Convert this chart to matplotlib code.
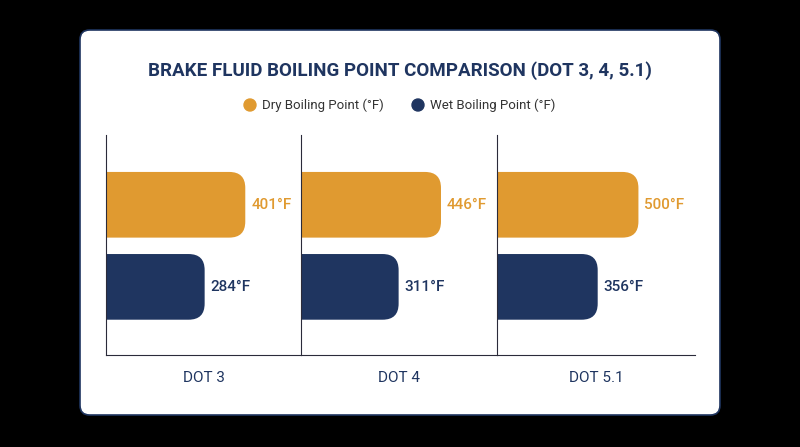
import matplotlib.pyplot as plt
from matplotlib.patches import FancyBboxPatch, Ellipse

categories = ['DOT 3', 'DOT 4', 'DOT 5.1']
dry = [401, 446, 500]
wet = [284, 311, 356]
series_names = ['Dry Boiling Point (°F)', 'Wet Boiling Point (°F)']

orange = '#E09A30'
navy = '#1F3560'
W, H = 800, 447

plt.rcParams['font.family'] = ['Roboto', 'DejaVu Sans']
fig = plt.figure(figsize=(8, 4.47), dpi=100)
fig.patch.set_facecolor('black')

# white card, kept behind the axes
card = FancyBboxPatch((80 / W, 1 - 415 / H), 640 / W, 385 / H,
                      boxstyle='round,pad=0,rounding_size=0.012',
                      transform=fig.transFigure, facecolor='white',
                      edgecolor=navy, linewidth=1.2, mutation_aspect=W / H, zorder=-5)
fig.add_artist(card)

fig.text(0.5, 1 - 71 / H, 'BRAKE FLUID BOILING POINT COMPARISON (DOT 3, 4, 5.1)',
         ha='center', va='center', fontsize=13.5, fontweight='bold', color=navy)
for cx, col, name in [(250, orange, series_names[0]), (418, navy, series_names[1])]:
    fig.add_artist(Ellipse((cx / W, 1 - 105 / H), 12 / W, 12 / H,
                           transform=fig.transFigure, color=col))
    fig.text((cx + 12) / W, 1 - 105 / H, name, ha='left', va='center',
             fontsize=9.5, color='#333333')

lefts = [106, 301, 497]
widths = [195, 196, 198]
ax_bot, ax_top = 355, 135
ylo, yhi = -0.83, 1.85
for i, cat in enumerate(categories):
    ax = fig.add_axes([lefts[i] / W, 1 - ax_bot / H, widths[i] / W, (ax_bot - ax_top) / H])
    xmax = max(dry[i], wet[i]) * 1.40
    ax.set_xlim(0, xmax)
    ax.set_ylim(ylo, yhi)
    xupp = xmax / widths[i]
    yupp = (yhi - ylo) / (ax_bot - ax_top)
    r = 16 * xupp
    for val, y, col in [(dry[i], 1, orange), (wet[i], 0, navy)]:
        p = FancyBboxPatch((-3 * r, y - 0.4), val + 3 * r, 0.8,
                           boxstyle=f'round,pad=0,rounding_size={r}',
                           mutation_aspect=yupp / xupp, facecolor=col, edgecolor='none')
        ax.add_patch(p)
        ax.text(val + 6 * xupp, y, f'{val}°F', ha='left', va='center',
                fontsize=11, fontweight='medium', color=col)
    for s in ['top', 'right']:
        ax.spines[s].set_visible(False)
    ax.spines['left'].set_color('#2b2b3a')
    ax.spines['bottom'].set_color('#2b2b3a')
    ax.set_xticks([])
    ax.set_yticks([])
    ax.set_facecolor('none')
    ax.text(0.5, -23 / (ax_bot - ax_top), cat, transform=ax.transAxes,
            ha='center', va='center', fontsize=11, color=navy)

fig.savefig('out.png', dpi=100, facecolor=fig.get_facecolor())
